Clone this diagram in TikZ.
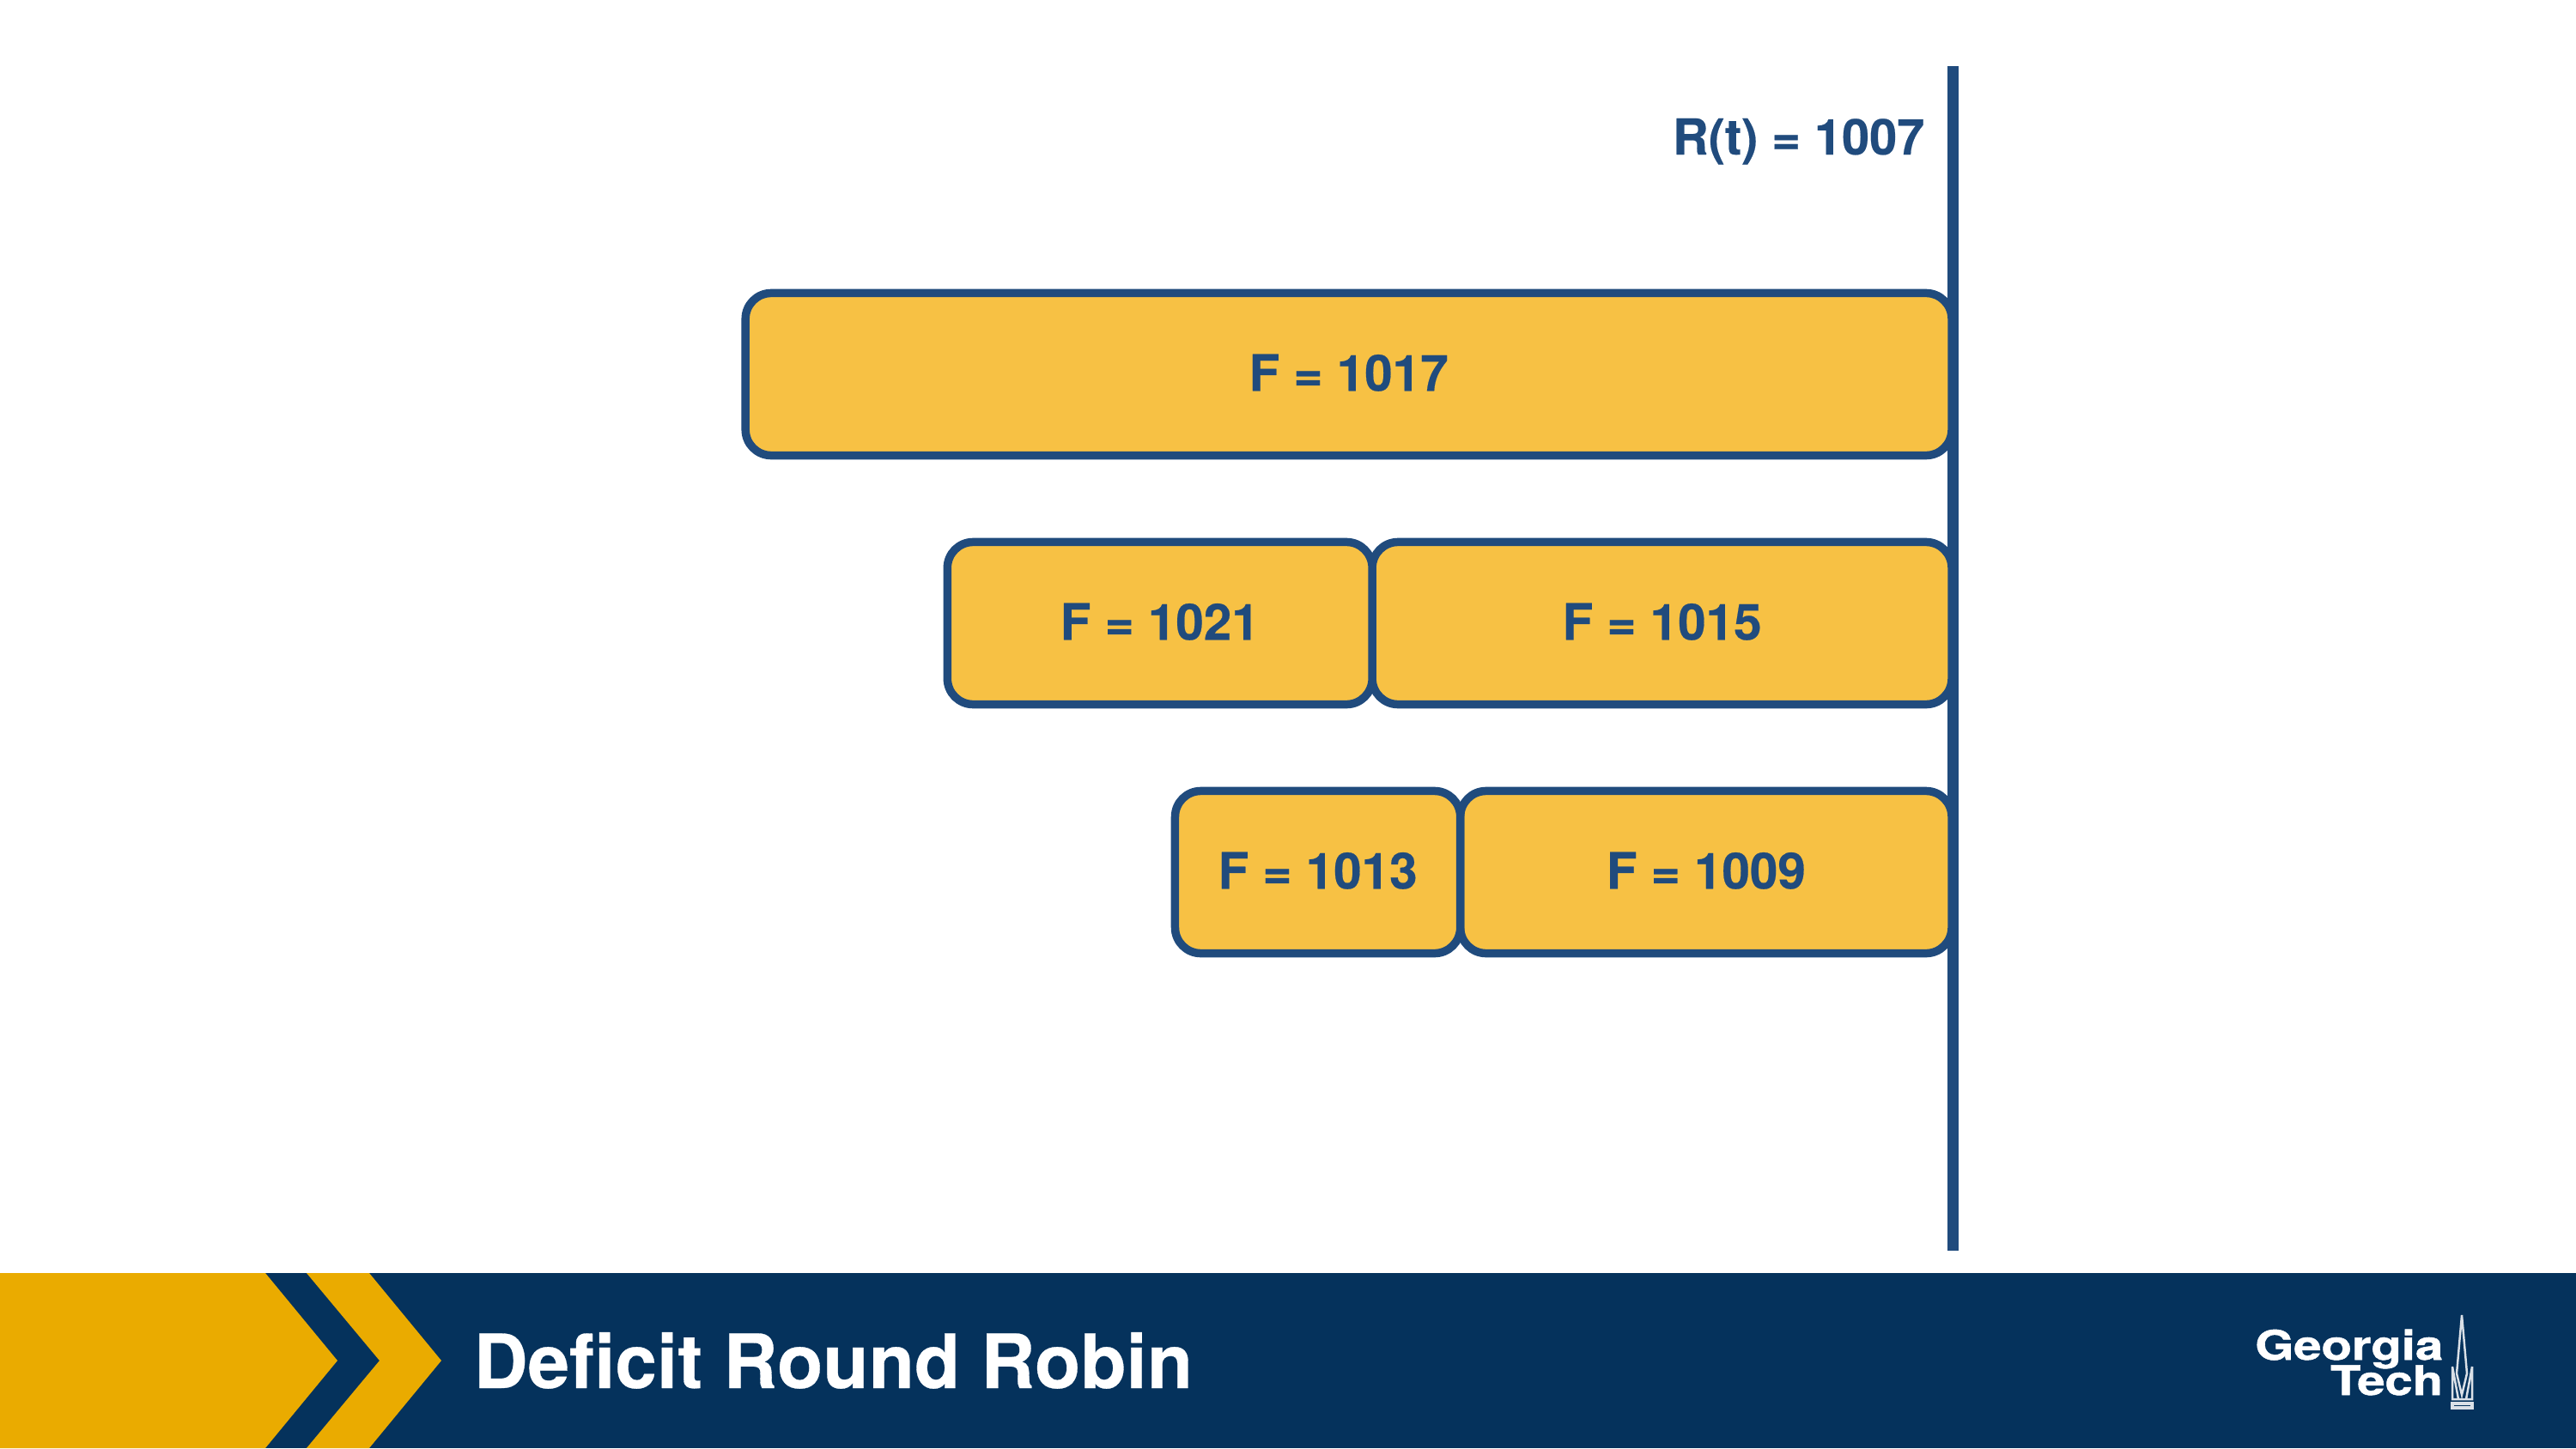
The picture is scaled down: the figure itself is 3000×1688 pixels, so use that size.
\documentclass[tikz,border=0pt]{standalone}
\usepackage{fontspec}
\usepackage{xcolor}
\setmainfont{TeX Gyre Heros}
\newfontface\heavyface{TeX Gyre Heros Bold}[FakeBold=0.35]
\newfontface\logoface{TeX Gyre Heros Bold}[FakeBold=1]
\definecolor{gtnavy}{HTML}{05325C}
\definecolor{gtgold}{HTML}{EAAB00}
\definecolor{boxblue}{HTML}{204B7D}
\definecolor{boxgold}{HTML}{F7C144}
\begin{document}
\begin{tikzpicture}[
  x=0.01cm,
  y=-0.01cm,
  pkt/.style={draw=boxblue,fill=boxgold,line width=2.7pt,rounded corners=0.3cm,
    outer sep=0pt,inner sep=0pt,minimum height=1.89cm,text=boxblue,text depth=0.04cm,
    font=\fontsize{16.6}{20}\heavyface},
  banner/.style={fill=gtnavy,draw=none},
  chevron/.style={fill=gtgold,draw=none},
  logotext/.style={anchor=base east,inner sep=0pt,text=white,xscale=1.22,text depth=0pt,font=\fontsize{13.5}{14}\logoface}
]
  \useasboundingbox (0,0) rectangle (3000,1688);
  \fill[white] (0,0) rectangle (3000,1688);

  % time line
  \coordinate (rtop) at (2274.5,77);
  \coordinate (rbot) at (2274.5,1457);
  \draw[boxblue,line width=3.6pt] (rtop) -- (rbot);
  \node[anchor=base east,inner sep=0pt,text=boxblue,font=\fontsize{16.4}{20}\heavyface] (rlabel) at (2242,180) {R(t) = 1007};

  % queues
  \node[pkt,minimum width=14.04cm,anchor=east] (f1017) at (2273,436) {F = 1017};
  \node[pkt,minimum width=6.745cm,anchor=east] (f1015) at (2273,726) {F = 1015};
  \node[pkt,minimum width=4.945cm,anchor=east] (f1021) at (f1015.west) {F = 1021};
  \node[pkt,minimum width=5.72cm,anchor=east] (f1009) at (2273,1016) {F = 1009};
  \node[pkt,minimum width=3.32cm,anchor=east] (f1013) at (f1009.west) {F = 1013};

  % footer
  \fill[banner] (0,1483) rectangle (3000,1687);
  \fill[chevron] (0,1483) -- (309,1483) -- (393,1585) -- (309,1687) -- (0,1687) -- cycle;
  \fill[chevron] (357,1483) -- (430,1483) -- (514,1585) -- (430,1687) -- (357,1687) -- (442,1585) -- cycle;
  \node[anchor=base west,inner sep=0pt,text=white,font=\fontsize{24.8}{28}\heavyface] (title) at (551,1617) {Deficit Round Robin};

  % logo
  \node[logotext] (georgia) at (2846,1584) {Georgia};
  \node[logotext] (tech) at (2846,1625) {Tech};
  \draw[white!85!gtnavy,line width=0.7pt,line join=miter]
    (2867,1532) -- (2861,1600) -- (2867,1625) -- (2873,1600) -- cycle
    (2856,1592) -- (2856,1630) -- (2879,1630) -- (2879,1592)
    (2856,1592) -- (2863,1630) (2879,1592) -- (2872,1630);
  \draw[white!85!gtnavy,line width=0.9pt] (2856,1635) rectangle (2879,1640);
\end{tikzpicture}
\end{document}
